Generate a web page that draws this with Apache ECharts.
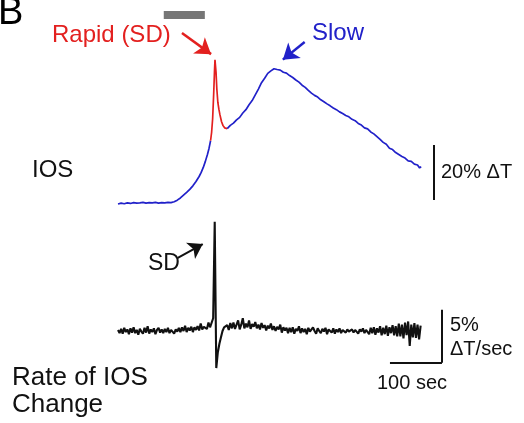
<!DOCTYPE html>
<html><head><meta charset="utf-8">
<script src="https://cdn.jsdelivr.net/npm/echarts@6/dist/echarts.min.js"></script>
<style>html,body{margin:0;padding:0;background:#fff}#c{width:524px;height:423px}</style>
</head><body><div id="c"></div>
<script>
// ---- Top trace: IOS (% ΔT) vs time (sec) ----
const iosBaseTime = [0,6,12,18,24,30,36,42,48,54,60,66,72,78,84,90,96,102,108,114,120,126,132,138,144,150,156,160,164,168,172,175,178];
const iosBaseVal  = [0,0.3,0.1,0.4,0.2,0.5,0.3,0.4,0.6,0.3,0.5,0.4,0.6,0.3,0.5,0.4,0.6,0.5,0.8,1.4,2.2,3.2,4.2,5.3,6.6,8.2,10.0,11.5,13.3,15.5,18.0,20.2,23.0];
const rapidTime = [178,180,182,184,185.5,186.5,187.5,188.5,190,192,194,196,199,202,205,208,210];
const rapidVal  = [23.0,26.0,31.0,40.0,48.0,52.4,51.8,48.0,42.0,37.0,34.5,32.5,30.0,28.5,27.7,27.3,27.4];
const slowTime = [210,216,222,228,234,240,246,252,258,264,270,276,282,288,294,300,306,312,318,324,330,336,342,348,354,360,366,372,378,384,390,396,402,408,414,420,426,432,438,444,450,456,462,468,474,480,486,492,498,504,510,516,522,528,534,540,546,552,558,564,570,576,580,583];
const slowVal  = [27.4,28.6,29.4,30.6,31.5,33.1,34.3,36.1,37.6,39.7,41.8,44.1,45.7,47.5,48.4,49.2,48.9,48.7,47.9,47.6,46.7,46.0,45.1,44.3,43.2,42.4,41.3,40.3,39.5,38.9,37.9,37.2,36.4,35.7,34.9,34.3,33.5,32.9,32.2,31.7,30.8,30.3,29.3,28.7,27.7,27.3,26.2,25.5,24.5,23.5,22.4,21.7,20.3,19.8,18.7,18.0,17.3,16.7,15.7,15.5,14.5,14.2,13.1,13.6];

// ---- Bottom trace: rate of IOS change (% ΔT/sec), sampled every 3 sec from 0 ----
const rateStep = 3;
const rateVal = [
 0.1,-0.2,0.2,-0.25,0.3,-0.1,0.15,-0.3,0.25,-0.15,
 0.35,-0.2,0.1,-0.35,0.2,-0.05,-0.25,0.3,-0.15,0.45,
 -0.25,0.15,-0.1,0.25,-0.3,0.1,0.3,-0.15,0.15,-0.2,
 0.2,-0.1,0.3,-0.2,0.1,0.25,-0.25,0.15,-0.05,0.3,
 -0.1,0.35,0.0,0.5,-0.1,0.3,0.05,0.4,-0.1,0.35,
 0.1,0.45,0.05,0.7,0.15,0.4,0.55,0.2,0.8,0.35,
 0.5,1.2,10.3,-3.5,-2.0,-1.2,-0.6,0.0,0.35,0.2,
 0.55,0.1,0.75,0.25,0.8,0.2,0.6,1.0,0.15,0.6,
 1.2,0.25,0.7,0.35,1.0,0.2,0.65,0.4,0.85,0.25,
 0.6,0.15,0.75,0.3,0.55,0.05,0.5,0.25,0.7,0.1,
 0.45,0.0,0.4,0.15,0.6,-0.15,0.35,0.05,0.3,-0.2,
 0.3,-0.1,0.35,-0.25,0.2,0.0,0.45,-0.2,0.25,-0.1,
 0.2,-0.3,0.3,-0.05,-0.2,0.35,0.0,-0.25,0.25,0.0,
 -0.2,0.2,-0.05,0.3,-0.3,0.15,0.0,-0.15,0.25,-0.25,
 0.15,-0.1,0.25,-0.2,0.1,0.2,-0.15,0.15,-0.05,-0.2,
 0.15,-0.15,0.1,0.2,-0.25,0.15,-0.05,0.25,-0.2,0.1,
 0.2,-0.3,0.3,-0.2,0.35,-0.35,0.25,-0.15,0.45,-0.4,
 0.3,-0.3,0.5,-0.45,0.35,-0.2,0.55,-0.4,0.45,-0.5,
 0.7,-0.5,0.6,-0.7,0.8,-0.4,0.9,-1.4,0.6,-0.6,
 0.75,-0.65,0.6,-0.8,0.5
];

// ---- Annotations (data units) ----
const stimBar = {t0: 88, t1: 167, v0: 67.3, v1: 70.2};          // gray bar, top panel
const iosScale = {t: 608, v0: 1.5, v1: 21.5};                   // 20% ΔT
const rateScale = {t: 623, v0: -3, v1: 2, tStart: 523};         // 5% ΔT/sec, 100 sec
const rapidArrow = [[123, 62.2], [179, 54.5]];
const slowArrow = [[359, 58.9], [317, 52.5]];
const sdArrow = [[115, 6.9], [163, 8.2]];

const pairs = (ts, vs) => ts.map((t, i) => [t, vs[i]]);
const rateData = rateVal.map((v, i) => [i * rateStep, v]);

const BLUE = '#2121c9', RED = '#e3201f', BLACK = '#111';
const FONT = 'Liberation Sans, Arial, sans-serif';
function txt(x, y, s, size, color, align) {
  return {type: 'text', x: x, y: y, silent: true,
    style: {text: s, fontSize: size, fontFamily: FONT, fill: color, align: align || 'left', verticalAlign: 'middle'}};
}

const chart = echarts.init(document.getElementById('c'), null, {renderer: 'canvas'});
chart.setOption({
  animation: false,
  backgroundColor: '#fff',
  grid: [
    {left: 118, width: 338, top: 6, height: 211.75},
    {left: 118, width: 338, top: 203.8, height: 180.2}
  ],
  xAxis: [
    {type: 'value', gridIndex: 0, min: 0, max: 650, show: false},
    {type: 'value', gridIndex: 1, min: 0, max: 650, show: false}
  ],
  yAxis: [
    {type: 'value', gridIndex: 0, min: -5, max: 72, show: false},
    {type: 'value', gridIndex: 1, min: -5, max: 12, show: false}
  ],
  series: [
    {type: 'line', xAxisIndex: 0, yAxisIndex: 0, data: pairs(iosBaseTime, iosBaseVal), showSymbol: false,
     lineStyle: {color: BLUE, width: 1.7}, silent: true,
     markArea: {silent: true, itemStyle: {color: '#767676'},
       data: [[{coord: [stimBar.t0, stimBar.v0]}, {coord: [stimBar.t1, stimBar.v1]}]]}},
    {type: 'line', xAxisIndex: 0, yAxisIndex: 0, data: pairs(rapidTime, rapidVal), showSymbol: false,
     lineStyle: {color: RED, width: 1.7}, silent: true,
     markLine: {silent: true, symbol: ['none', 'arrow'], symbolSize: 15, label: {show: false},
       lineStyle: {color: RED, width: 2.5, type: 'solid'},
       data: [[{coord: rapidArrow[0]}, {coord: rapidArrow[1]}]]}},
    {type: 'line', xAxisIndex: 0, yAxisIndex: 0, data: pairs(slowTime, slowVal), showSymbol: false,
     lineStyle: {color: BLUE, width: 1.7}, silent: true,
     markLine: {silent: true, symbol: ['none', 'arrow'], symbolSize: 15, label: {show: false},
       lineStyle: {color: BLUE, width: 2.5, type: 'solid'},
       data: [[{coord: slowArrow[0]}, {coord: slowArrow[1]}]]}},
    {type: 'line', xAxisIndex: 0, yAxisIndex: 0, data: [], silent: true,
     markLine: {silent: true, symbol: 'none', label: {show: false},
       lineStyle: {color: BLACK, width: 2, type: 'solid'},
       data: [[{coord: [iosScale.t, iosScale.v0]}, {coord: [iosScale.t, iosScale.v1]}]]}},
    {type: 'line', xAxisIndex: 1, yAxisIndex: 1, data: rateData, showSymbol: false,
     lineStyle: {color: BLACK, width: 2.1}, silent: true,
     markLine: {silent: true, symbol: ['none', 'arrow'], symbolSize: 14, label: {show: false},
       lineStyle: {color: BLACK, width: 2, type: 'solid'},
       data: [[{coord: sdArrow[0]}, {coord: sdArrow[1]}]]}},
    {type: 'line', xAxisIndex: 1, yAxisIndex: 1, data: [], silent: true,
     markLine: {silent: true, symbol: 'none', label: {show: false},
       lineStyle: {color: BLACK, width: 2, type: 'solid'},
       data: [
         [{coord: [rateScale.t, rateScale.v0]}, {coord: [rateScale.t, rateScale.v1]}],
         [{coord: [rateScale.tStart, rateScale.v0]}, {coord: [rateScale.t, rateScale.v0]}]
       ]}}
  ],
  graphic: [
    txt(-2, 14, 'B', 38, '#000'),
    txt(52, 35, 'Rapid (SD)', 24, RED),
    txt(312, 33, 'Slow', 24, BLUE),
    txt(32, 170, 'IOS', 24, BLACK),
    txt(441, 172, '20% \u0394T', 20, BLACK),
    txt(148, 264, 'SD', 23, BLACK),
    txt(450, 325, '5%', 20, BLACK),
    txt(450, 349, '\u0394T/sec', 20, BLACK),
    txt(377, 383, '100 sec', 20, BLACK),
    txt(12, 378, 'Rate of IOS', 26, BLACK),
    txt(12, 405, 'Change', 26, BLACK)
  ]
});
</script></body></html>
